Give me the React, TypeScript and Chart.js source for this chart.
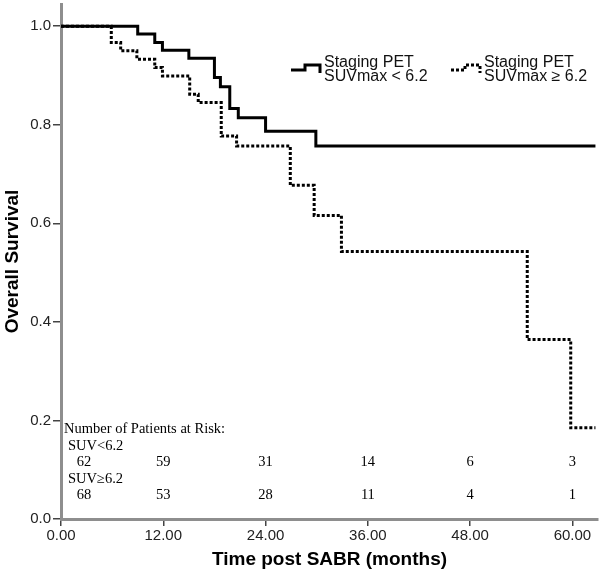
import { useEffect, useRef } from 'react';
import { Chart, registerables } from 'chart.js';

Chart.register(...registerables);

// Kaplan–Meier curves (time in months, survival after the step)
const lowTimes = [0, 9.0, 11.0, 11.9, 15.0, 18.0, 18.7, 19.8, 20.8, 24.0, 29.9, 62.7];
const lowSurvival = [1.0, 0.984, 0.967, 0.951, 0.935, 0.896, 0.877, 0.833, 0.814, 0.787, 0.757, 0.757];

const highTimes = [0, 5.9, 7.0, 8.9, 11.0, 11.9, 15.1, 16.1, 18.8, 20.6, 26.9, 29.7, 32.9, 54.7, 59.8, 62.7];
const highSurvival = [1.0, 0.967, 0.95, 0.933, 0.916, 0.899, 0.862, 0.845, 0.777, 0.757, 0.677, 0.616, 0.543, 0.364, 0.185, 0.185];

const seriesLabels = ['Staging PET\nSUVmax < 6.2', 'Staging PET\nSUVmax ≥ 6.2'];

// Number at risk table
const riskTitle = 'Number of Patients at Risk:';
const riskGroupLabels = ['SUV<6.2', 'SUV≥6.2'];
const riskTimes = [0, 12, 24, 36, 48, 60];
const riskLow = [62, 59, 31, 14, 6, 3];
const riskHigh = [68, 53, 28, 11, 4, 1];

const xAxisTitle = 'Time post SABR (months)';
const yAxisTitle = 'Overall Survival';

const SANS = '"Liberation Sans", Arial, sans-serif';
const SERIF = '"Liberation Serif", "Times New Roman", serif';

const toPoints = (t: number[], s: number[]) => t.map((x, i) => ({ x, y: s[i] }));

const legendPlugin = {
  id: 'kmLegend',
  afterDraw(chart: any) {
    const { ctx, chartArea } = chart;
    const items = [
      { x: chartArea.left + 230, dash: [] as number[], text: seriesLabels[0] },
      { x: chartArea.left + 390, dash: [3, 2], text: seriesLabels[1] },
    ];
    const top = chartArea.top;
    ctx.save();
    items.forEach((it) => {
      ctx.strokeStyle = '#000';
      ctx.lineWidth = 3;
      ctx.setLineDash(it.dash);
      ctx.beginPath();
      ctx.moveTo(it.x, top + 66);
      ctx.lineTo(it.x + 14, top + 66);
      ctx.lineTo(it.x + 14, top + 61);
      ctx.lineTo(it.x + 29, top + 61);
      ctx.lineTo(it.x + 29, top + 69);
      ctx.stroke();
      ctx.setLineDash([]);
      ctx.fillStyle = '#111';
      ctx.font = `16px ${SANS}`;
      ctx.textAlign = 'left';
      ctx.textBaseline = 'alphabetic';
      const lines = it.text.split('\n');
      lines.forEach((ln, i) => ctx.fillText(ln, it.x + 33, top + 62.5 + i * 14));
    });
    ctx.restore();
  },
};

const riskPlugin = {
  id: 'riskTable',
  afterDraw(chart: any) {
    const { ctx, chartArea, scales } = chart;
    const xs = scales.x;
    const b = chartArea.bottom;
    ctx.save();
    ctx.fillStyle = '#000';
    ctx.font = `14.5px ${SERIF}`;
    ctx.textBaseline = 'middle';
    ctx.textAlign = 'left';
    ctx.fillText(riskTitle, chartArea.left + 3, b - 90);
    ctx.fillText(riskGroupLabels[0], chartArea.left + 7, b - 73);
    ctx.fillText(riskGroupLabels[1], chartArea.left + 7, b - 40);
    ctx.textAlign = 'center';
    riskTimes.forEach((t, i) => {
      const px = Math.max(xs.getPixelForValue(t), chartArea.left + 23);
      ctx.fillText(String(riskLow[i]), px, b - 57);
      ctx.fillText(String(riskHigh[i]), px, b - 24);
    });
    ctx.restore();
  },
};

export default function App() {
  const ref = useRef<HTMLCanvasElement | null>(null);

  useEffect(() => {
    if (!ref.current) return;
    const chart = new Chart(ref.current, {
      type: 'line',
      data: {
        datasets: [
          {
            label: seriesLabels[0],
            data: toPoints(lowTimes, lowSurvival),
            borderColor: '#000',
            borderWidth: 3,
            stepped: 'before',
            pointRadius: 0,
            fill: false,
          },
          {
            label: seriesLabels[1],
            data: toPoints(highTimes, highSurvival),
            borderColor: '#000',
            borderWidth: 3,
            borderDash: [3, 2],
            stepped: 'before',
            pointRadius: 0,
            fill: false,
          },
        ],
      },
      options: {
        responsive: false,
        animation: false,
        layout: { padding: { left: 0, right: 2, top: 4, bottom: 0 } },
        plugins: {
          legend: { display: false },
          tooltip: { enabled: false },
        },
        scales: {
          x: {
            type: 'linear',
            min: 0,
            max: 63,
            afterFit: (s: any) => { s.height = 52; s.paddingLeft = 0; s.paddingRight = 0; },
            border: { display: true, color: '#8e8e8e', width: 3 },
            grid: { drawOnChartArea: false, drawTicks: true, tickLength: 7, color: '#444', lineWidth: 1.5 },
            ticks: {
              stepSize: 12,
              includeBounds: false,
              padding: 1,
              color: '#222',
              font: { family: SANS, size: 15 },
              maxRotation: 0,
              callback: (v: any) => Number(v).toFixed(2),
            },
            title: {
              display: true,
              text: xAxisTitle,
              color: '#000',
              font: { family: SANS, size: 19, weight: 'bold' },
              padding: { top: 0, bottom: 0 },
            },
          },
          y: {
            type: 'linear',
            min: 0,
            max: 1.045,
            afterFit: (s: any) => { s.width = 61; s.paddingTop = 0; s.paddingBottom = 0; },
            border: { display: true, color: '#8e8e8e', width: 3 },
            grid: { drawOnChartArea: false, drawTicks: true, tickLength: 8, color: '#444', lineWidth: 1.5 },
            ticks: {
              stepSize: 0.2,
              includeBounds: false,
              padding: 2,
              color: '#222',
              font: { family: SANS, size: 15 },
              callback: (v: any) => Number(v).toFixed(1),
            },
            title: {
              display: true,
              text: yAxisTitle,
              color: '#000',
              font: { family: SANS, size: 19, weight: 'bold' },
              padding: { top: 1, bottom: 0 },
            },
          },
        },
      },
      plugins: [legendPlugin, riskPlugin],
    });
    return () => chart.destroy();
  }, []);

  return (
    <div style={{ position: 'absolute', left: 0, top: 0, width: 600, height: 571, background: '#fff' }}>
      <canvas ref={ref} width={600} height={571} />
    </div>
  );
}
